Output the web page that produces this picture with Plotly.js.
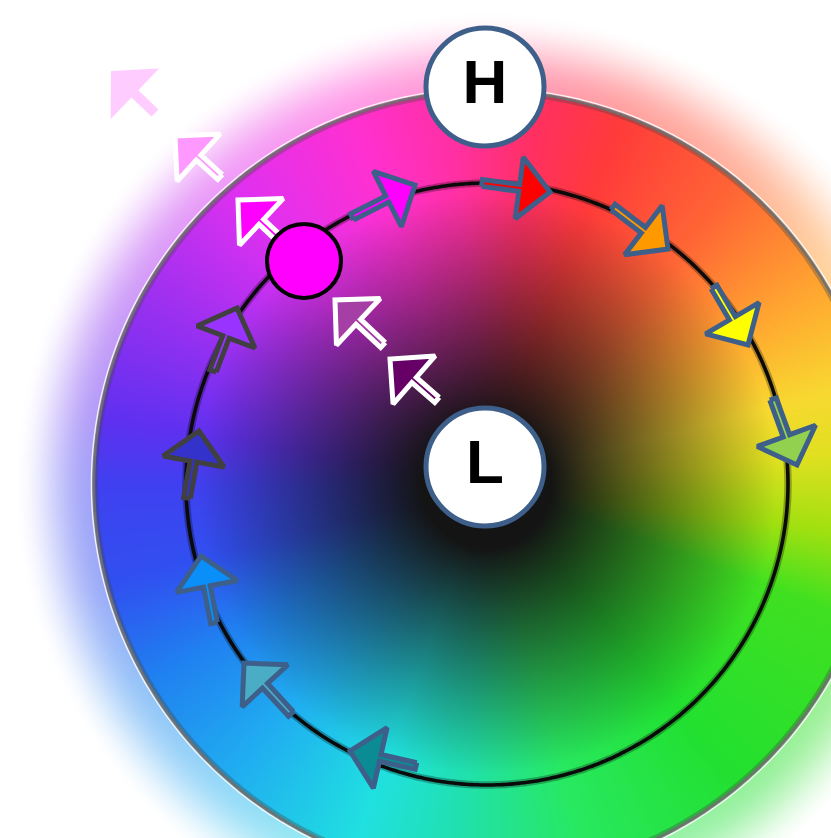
<!DOCTYPE html>
<html><head><meta charset="utf-8">
<script src="https://cdn.plot.ly/plotly-3.0.1.min.js"></script>
<style>html,body{margin:0;padding:0;background:#fff}#chart{width:831px;height:838px}</style>
</head><body><div id="chart"></div>
<script>
// ---- DATA ----
// hue ring: screen angle (deg, counter-clockwise from +x) -> colour
const ringAngles = [-180,-165,-150,-130,-110,-95,-75,-50,-20,-8,5,15,30,50,70,82,95,110,130,150,170,180];
const ringColors = ['#4040f0','#3050f0','#2080f0','#20b0f0','#20e0e0','#20e0b0','#28e860','#22e030','#40e020','#a0e010','#e0e020','#f8d830','#ffa830','#ff6535','#ff3a3a','#ff3060','#ff30a0','#ff30d0','#e030f0','#a030f0','#6030f0','#4040f0'];

// arrows (tail -> tip), in wheel coordinates
const arrowTailX = [352,482,613,714,773, 416,291,214,187,213, 437,383,285,220,155];
const arrowTailY = [217,183,207,287,399, 766,714,623,498,371, 400,345,244,177,113];
const arrowTipX  = [415,550,668,748,797, 350,244,201,199,237, 390,335,238,175,111];
const arrowTipY  = [185,192,249,345,465, 751,663,556,431,308, 359,300,200,136,71];
const arrowFill  = ['#ff00ff','#ff0000','#ff9900','#ffff00','#92d050','#0b8b93','#4bacc6','#0a8ef8','#3333cc','#9933ff','#660066','#a53ea5','#ff00ff','#ff99ff','#ffccff'];
const arrowKind  = ['ring','ring','ring','ring','ring','ring','ring','ring','dark','dark','white','white','white','white','ghost'];

// labelled nodes
const nodeX = [485,485];
const nodeY = [87,467];
const nodeLabel = ['H','L'];
// selected colour point
const pointX = [304];
const pointY = [261];

// ---- GEOMETRY / STYLE ----
const W = 831, H = 838;
const cx = 487, cy = 484, rInner = 301, rOuter = 393, rHalo = 478;
const kindStyle = {
  ring:  {edge:'#3d5f8a', lw:5, hl:31, hw:31, sw:3.4},
  dark:  {edge:'#404040', lw:5, hl:31, hw:31, sw:3.4},
  white: {edge:'#ffffff', lw:5, hl:32, hw:32, sw:3.4},
  ghost: {edge:'rgba(0,0,0,0)', lw:0, hl:33, hw:35, sw:5}
};

function hex2rgb(h){return [parseInt(h.substr(1,2),16),parseInt(h.substr(3,2),16),parseInt(h.substr(5,2),16)];}
const ringRGB = ringColors.map(hex2rgb);
function ringColor(th){
  for(let i=0;i<ringAngles.length-1;i++){
    if(th>=ringAngles[i] && th<=ringAngles[i+1]){
      const t=(th-ringAngles[i])/(ringAngles[i+1]-ringAngles[i]);
      const a=ringRGB[i], b=ringRGB[i+1];
      return [a[0]+(b[0]-a[0])*t, a[1]+(b[1]-a[1])*t, a[2]+(b[2]-a[2])*t];
    }
  }
  return ringRGB[0];
}
function smooth(t){t=Math.max(0,Math.min(1,t));return t*t*(3-2*t);}
function pix(x,y){
  const dx=x-cx, dy=cy-y, d=Math.hypot(dx,dy);
  if(d>=rHalo) return [255,255,255,1];
  const c=ringColor(Math.atan2(dy,dx)*180/Math.PI);
  if(d<rInner){
    let t=Math.max(0,(d-65)/225); t=Math.min(1,Math.pow(t,0.95));
    return [20+(c[0]-20)*t, 20+(c[1]-20)*t, 20+(c[2]-20)*t, 1];
  }
  if(d<rOuter) return [c[0],c[1],c[2],1];
  const w=0.52+0.48*smooth((d-rOuter)/(rHalo-rOuter-5));
  return [c[0]+(255-c[0])*w, c[1]+(255-c[1])*w, c[2]+(255-c[2])*w, 1];
}
const step=2, cols=Math.ceil(W/step), rows=Math.ceil(H/step);
const z=[];
for(let j=0;j<rows;j++){const row=[];for(let i=0;i<cols;i++){row.push(pix(i*step+1,j*step+1));}z.push(row);}

const traces=[{type:'image', z:z, colormodel:'rgba', x0:1, y0:1, dx:step, dy:step, zsmooth:'fast', hoverinfo:'skip'}];

// ring outlines drawn as line traces (above the image, below the arrows)
function ringTrace(r,color,width){
  const xs=[],ys=[];
  for(let a=0;a<=360;a+=1){xs.push(cx+r*Math.cos(a*Math.PI/180));ys.push(cy+r*Math.sin(a*Math.PI/180));}
  return {type:'scatter',mode:'lines',x:xs,y:ys,line:{color:color,width:width,shape:'spline'},hoverinfo:'skip'};
}
traces.push(ringTrace(rOuter+2.5,'rgba(255,255,255,0.85)',1.6));
traces.push(ringTrace(rOuter-1,'rgba(70,70,70,0.35)',6));
traces.push(ringTrace(rOuter,'rgba(110,110,110,0.9)',2.6));
traces.push(ringTrace(rInner,'rgba(0,0,0,0.28)',7.5));
traces.push(ringTrace(rInner,'#0a0a0a',3.6));

function arrowPoly(x0,y0,x1,y1,s){
  const L=Math.hypot(x1-x0,y1-y0), ux=(x1-x0)/L, uy=(y1-y0)/L, nx=-uy, ny=ux;
  const bx=x1-ux*s.hl, by=y1-uy*s.hl;
  const px=[x0+nx*s.sw, bx+nx*s.sw, bx+nx*s.hw, x1, bx-nx*s.hw, bx-nx*s.sw, x0-nx*s.sw, x0+nx*s.sw];
  const py=[y0+ny*s.sw, by+ny*s.sw, by+ny*s.hw, y1, by-ny*s.hw, by-ny*s.sw, y0-ny*s.sw, y0+ny*s.sw];
  return [px,py];
}
for(let k=0;k<arrowTailX.length;k++){
  const s=kindStyle[arrowKind[k]];
  const p=arrowPoly(arrowTailX[k],arrowTailY[k],arrowTipX[k],arrowTipY[k],s);
  traces.push({type:'scatter', mode:'lines', x:p[0], y:p[1], fill:'toself', fillcolor:arrowFill[k],
    line:{color:s.edge, width:s.lw||0.1}, hoverinfo:'skip'});
}
traces.push({type:'scatter', mode:'markers', x:pointX, y:pointY,
  marker:{size:74, color:'#ff00ff', line:{color:'#000000', width:4}}, hoverinfo:'skip'});
traces.push({type:'scatter', mode:'markers+text', x:nodeX, y:nodeY, text:nodeLabel, textposition:'middle center',
  textfont:{family:'Liberation Sans, Arial, sans-serif', size:62, color:'#000000', weight:'bold'},
  marker:{size:118, color:'#ffffff', line:{color:'#3d5f8a', width:5}}, hoverinfo:'skip'});

const layout={
  width:W, height:H, margin:{l:0,r:0,t:0,b:0}, showlegend:false,
  paper_bgcolor:'#ffffff', plot_bgcolor:'#ffffff',
  xaxis:{range:[0,W], visible:false, fixedrange:true},
  yaxis:{range:[H,0], autorange:false, visible:false, fixedrange:true}
};
Plotly.newPlot('chart', traces, layout, {staticPlot:true, displayModeBar:false});
</script>
</body></html>
